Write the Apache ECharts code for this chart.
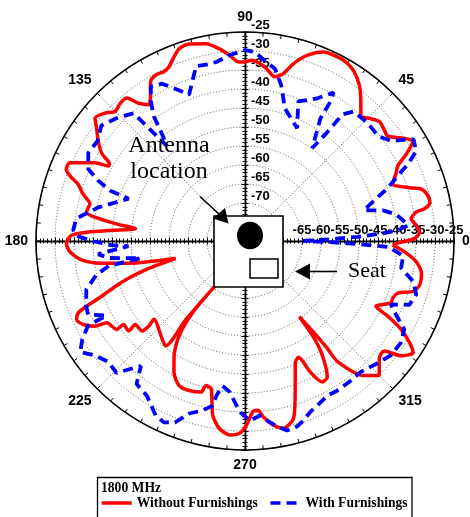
<!DOCTYPE html>
<html>
<head>
<meta charset="utf-8">
<script src="https://cdn.jsdelivr.net/npm/echarts@6/dist/echarts.min.js"></script>
<style>
  html, body { margin: 0; padding: 0; background: #fff; }
  #chart { width: 470px; height: 517px; }
</style>
</head>
<body>
<div id="chart"></div>
<script>
// Received level (dBm) against azimuth (degrees) at 1800 MHz, traced point by point
const redAngle = [358.4, 359.1, 0.8, 2.9, 5.2, 7.6, 9.6, 10.2, 11.8, 13.9, 16.4, 18.2, 21.1, 24.4, 26.2, 28.3, 30.7, 33.4, 36.3, 38.7,
  41.7, 45.1, 47.1, 51.0, 53.8, 57.2, 60.3, 63.8, 67.5, 71.5, 74.7, 77.1, 79.7, 82.9, 85.2, 88.0, 90.1, 92.3, 94.7, 97.6,
  101.2, 105.8, 108.9, 111.9, 113.6, 115.6, 118.3, 120.7, 122.3, 125.2, 127.7, 129.6, 132.2, 135.1, 137.6, 140.7, 142.7, 145.8, 148.6, 150.4,
  151.2, 152.4, 154.4, 155.9, 158.1, 159.9, 161.2, 163.8, 166.5, 169.7, 171.0, 172.4, 173.6, 175.4, 176.7, 178.1, 180.8, 183.5, 186.6, 188.8,
  190.8, 194.0, 195.1, 196.2, 197.7, 199.3, 201.1, 202.4, 203.3, 205.0, 207.3, 209.6, 210.6, 214.6, 214.5, 217.7, 217.3, 221.2, 221.5, 220.7,
  229.9, 232.9, 233.0, 236.4, 233.8, 235.2, 238.3, 241.6, 245.5, 249.5, 253.8, 254.9, 257.1, 259.5, 262.2, 265.5, 268.4, 270.4, 272.7, 274.4,
  275.9, 278.7, 281.6, 285.3, 288.0, 292.5, 294.7, 296.5, 298.7, 301.1, 304.0, 305.5, 305.7, 307.0, 307.5, 307.5, 311.5, 314.9, 319.1, 321.7,
  323.7, 326.4, 328.3, 330.5, 332.2, 333.5, 337.0, 338.9, 341.2, 343.3, 345.9, 349.7, 353.1, 356.1, 358.4];
const redLevel = [-41.1, -40.2, -35.4, -34.0, -34.7, -35.9, -34.3, -32.0, -30.3, -30.4, -31.6, -34.9, -38.3, -36.3, -35.2, -31.8, -28.6, -30.7, -33.4, -33.1,
  -32.7, -34.3, -35.2, -31.6, -29.1, -27.0, -26.0, -25.8, -26.2, -28.5, -31.6, -34.8, -36.1, -34.3, -33.1, -32.4, -32.9, -32.8, -31.0, -29.0,
  -27.1, -26.1, -26.5, -28.7, -30.0, -30.6, -30.4, -31.3, -33.5, -36.1, -34.2, -31.2, -31.1, -31.7, -30.1, -29.0, -30.9, -33.3, -35.9, -39.0,
  -39.0, -35.5, -32.3, -29.5, -29.3, -31.3, -33.6, -35.6, -38.0, -37.6, -40.0, -45.5, -51.0, -44.8, -38.7, -34.3, -33.0, -33.8, -36.7, -41.8,
  -48.8, -61.2, -57.4, -52.7, -47.8, -43.8, -39.6, -34.9, -32.2, -31.1, -32.1, -34.6, -37.7, -39.0, -41.2, -41.3, -43.7, -44.0, -46.2, -48.4,
  -46.2, -45.4, -54.1, -66.0, -56.6, -49.6, -44.5, -40.7, -38.2, -38.0, -38.6, -40.6, -40.1, -33.4, -30.2, -28.8, -29.4, -31.5, -35.1, -35.3,
  -33.5, -31.0, -29.7, -31.6, -37.3, -45.4, -46.3, -41.4, -37.7, -38.1, -43.5, -49.0, -55.5, -49.5, -44.5, -40.0, -32.7, -30.0, -33.2, -33.3,
  -29.0, -26.9, -29.1, -32.8, -37.5, -41.5, -38.3, -38.3, -37.5, -33.8, -32.6, -32.8, -34.6, -37.9, -41.1];

const blueAngle = [0.0, 1.2, 2.1, 3.1, 4.0, 5.5, 10.0, 12.5, 14.4, 17.4, 20.4, 22.7, 25.3, 27.7, 31.2, 34.4, 38.2, 43.8, 50.0, 52.4,
  53.0, 54.1, 58.4, 58.5, 59.2, 63.1, 69.1, 65.2, 73.2, 77.0, 80.1, 83.3, 87.0, 90.0, 91.6, 94.7, 99.1, 102.4, 105.6, 108.3,
  110.9, 114.2, 117.8, 121.4, 124.0, 126.2, 127.3, 129.4, 130.7, 131.1, 135.7, 141.2, 145.9, 150.7, 155.3, 157.7, 159.5, 160.0, 167.1, 172.4,
  176.4, 178.4, 180.1, 181.8, 182.5, 185.1, 187.1, 189.3, 190.4, 192.8, 197.1, 202.4, 205.1, 208.3, 208.3, 211.1, 214.0, 217.1, 221.5, 225.7,
  230.2, 232.8, 237.6, 242.9, 245.9, 248.9, 252.1, 255.9, 258.8, 259.5, 261.2, 264.2, 266.7, 268.6, 271.5, 274.9, 277.0, 279.8, 282.5, 285.7,
  288.0, 291.0, 293.7, 298.1, 302.2, 307.1, 311.5, 316.8, 322.0, 327.0, 331.0, 335.2, 336.5, 338.8, 342.6, 346.4, 350.2, 354.6, 357.6, 358.4,
  359.2, 360.0];
const blueLevel = [-64.7, -57.5, -50.3, -44.2, -39.6, -36.8, -39.6, -42.8, -47.7, -44.4, -39.8, -36.9, -32.5, -29.1, -28.2, -33.4, -35.4, -35.2, -35.5, -37.9,
  -44.8, -49.8, -42.1, -37.0, -34.5, -37.9, -40.7, -47.3, -43.6, -37.8, -34.0, -32.5, -30.2, -29.8, -30.2, -30.9, -32.3, -32.5, -32.2, -35.8,
  -38.8, -36.3, -33.2, -32.4, -35.7, -39.4, -43.0, -47.7, -39.1, -35.4, -33.4, -31.5, -33.1, -32.7, -34.6, -38.3, -42.2, -47.4, -40.4, -35.2,
  -34.7, -36.1, -40.1, -44.8, -49.3, -41.2, -43.8, -52.2, -43.5, -39.9, -36.3, -34.8, -34.4, -38.6, -33.1, -30.0, -27.7, -30.2, -32.0, -31.5,
  -37.2, -32.8, -31.8, -28.4, -27.7, -28.8, -32.3, -34.0, -35.8, -38.6, -41.4, -40.1, -37.1, -34.8, -32.7, -33.9, -32.4, -30.5, -28.9, -29.3,
  -30.3, -31.9, -32.7, -33.9, -33.7, -33.9, -34.0, -32.7, -31.2, -31.0, -32.1, -37.1, -38.1, -33.6, -32.8, -34.4, -38.3, -38.2, -42.1, -49.5,
  -57.5, -64.7];

// Axis labelling
const angleLabels = [0, 45, 90, 135, 180, 225, 270, 315];
const levelLabelsVertical = [-70, -65, -60, -55, -50, -45, -40, -35, -30, -25];
const levelLabelsHorizontal = [-65, -60, -55, -50, -45, -40, -35, -30, -25];
const levelRange = [-80, -25];

const seriesNames = ['Without Furnishings', 'With Furnishings'];
const legendTitle = '1800 MHz';

const CENTER = [245, 241];
const RADIUS = 209;
const SANS = '"Liberation Sans", Arial, sans-serif';
const SERIF = '"Liberation Serif", "Times New Roman", serif';

const toPairs = (angles, levels) => angles.map((a, i) => [levels[i], a]);

// One polar frame per axis direction and side; all share centre and radius
const dirs = [0, 0, 90, 90, 180, 180, 270, 270];
const polars = dirs.map(() => ({ center: CENTER, radius: RADIUS }));

const angleAxes = dirs.map((d, i) => {
  if (i === 0) {
    return {
      polarIndex: 0,
      type: 'value',
      min: 0, max: 360, interval: 45,
      startAngle: 0,
      clockwise: false,
      axisLine: { show: true, lineStyle: { color: '#000', width: 1.6 } },
      axisTick: { show: true, inside: true, length: 4, lineStyle: { color: '#000', width: 1 } },
      minorTick: { show: true, splitNumber: 9, length: 4, lineStyle: { color: '#000', width: 1 } },
      splitLine: { show: true, lineStyle: { color: '#333', width: 0.8, type: [1, 2] } },
      axisLabel: {
        show: true, margin: 8, color: '#000', fontFamily: SANS, fontWeight: 'bold', fontSize: 14,
        formatter: v => (angleLabels.indexOf(v) >= 0 ? String(v) : '')
      }
    };
  }
  return { polarIndex: i, type: 'value', min: 0, max: 360, startAngle: d, clockwise: false, show: false };
});

const radiusAxes = dirs.map((d, i) => {
  const flip = i % 2 === 1 ? -1 : 1;
  const ax = {
    polarIndex: i,
    type: 'value',
    min: levelRange[0], max: levelRange[1], interval: 5,
    axisLine: { show: true, lineStyle: { color: '#000', width: 1.4 } },
    axisTick: { show: true, length: 3.5 * flip, lineStyle: { color: '#000', width: 1 } },
    minorTick: { show: true, splitNumber: 5, length: 2.5 * flip, lineStyle: { color: '#000', width: 1 } },
    splitLine: { show: i === 0, lineStyle: { color: '#333', width: 0.8, type: [1, 2] } },
    axisLabel: { show: false }
  };
  if (i === 0) {
    ax.axisLabel = {
      show: true, margin: 4, color: '#000', fontFamily: SANS, fontWeight: 'bold', fontSize: 13,
      formatter: v => (levelLabelsHorizontal.indexOf(v) >= 0 ? String(v) : '')
    };
  }
  if (i === 2) {
    ax.axisLabel = {
      show: true, margin: -6, align: 'left', verticalAlign: 'bottom', color: '#000',
      fontFamily: SANS, fontWeight: 'bold', fontSize: 13,
      formatter: v => (levelLabelsVertical.indexOf(v) >= 0 ? String(v) : '')
    };
  }
  return ax;
});

const chart = echarts.init(document.getElementById('chart'), null, { renderer: 'canvas' });

chart.setOption({
  animation: false,
  backgroundColor: '#fff',
  polar: polars,
  angleAxis: angleAxes,
  radiusAxis: radiusAxes,
  legend: {
    left: 100, top: 496, padding: 0,
    itemWidth: 30, itemHeight: 14, itemGap: 11,
    selectedMode: false,
    itemStyle: { opacity: 0 },
    lineStyle: { width: 3.5 },
    textStyle: { fontFamily: SERIF, fontWeight: 'bold', fontSize: 13.6, color: '#000' },
    data: seriesNames
  },
  series: [
    {
      name: seriesNames[0],
      type: 'line',
      coordinateSystem: 'polar',
      polarIndex: 0,
      symbol: 'none',
      smooth: 0.25,
      z: 3,
      lineStyle: { color: '#ff0000', width: 3.5 },
      itemStyle: { color: '#ff0000' },
      data: toPairs(redAngle, redLevel)
    },
    {
      name: seriesNames[1],
      type: 'line',
      coordinateSystem: 'polar',
      polarIndex: 0,
      symbol: 'none',
      z: 4,
      lineStyle: { color: '#0000ff', width: 3.8, type: [10, 6] },
      itemStyle: { color: '#0000ff' },
      data: toPairs(blueAngle, blueLevel)
    }
  ],
  graphic: [
    // receiver box with antenna and seat
    { type: 'rect', z: 100, shape: { x: 214, y: 216, width: 69, height: 71 },
      style: { fill: '#fff', stroke: '#000', lineWidth: 1.6 } },
    { type: 'circle', z: 101, x: 250, y: 235.5, scaleY: 1.06, shape: { cx: 0, cy: 0, r: 13 },
      style: { fill: '#000' } },
    { type: 'rect', z: 101, shape: { x: 250, y: 259, width: 28, height: 19 },
      style: { fill: '#fff', stroke: '#000', lineWidth: 1.5 } },
    // "Antenna location" callout
    { type: 'text', z: 102, style: { text: 'Antenna', x: 169, y: 146, align: 'center', verticalAlign: 'middle',
      font: '24px ' + SERIF, fill: '#000' } },
    { type: 'text', z: 102, style: { text: 'location', x: 169, y: 172, align: 'center', verticalAlign: 'middle',
      font: '24px ' + SERIF, fill: '#000' } },
    { type: 'line', z: 102, shape: { x1: 200, y1: 196.5, x2: 220, y2: 215 },
      style: { stroke: '#000', lineWidth: 1.6 } },
    { type: 'polygon', z: 102, shape: { points: [[228.5, 223.5], [213, 218.5], [225, 208]] },
      style: { fill: '#000' } },
    // "Seat" callout
    { type: 'text', z: 102, style: { text: 'Seat', x: 348, y: 271, align: 'left', verticalAlign: 'middle',
      font: '22px ' + SERIF, fill: '#000' } },
    { type: 'line', z: 102, shape: { x1: 306, y1: 271.5, x2: 337, y2: 271.5 },
      style: { stroke: '#000', lineWidth: 1.6 } },
    { type: 'polygon', z: 102, shape: { points: [[295, 271.5], [310, 263.5], [310, 279.5]] },
      style: { fill: '#000' } },
    // legend frame and title
    { type: 'rect', z: 1, shape: { x: 97.5, y: 477.5, width: 314.5, height: 60 },
      style: { fill: 'none', stroke: '#000', lineWidth: 1.3 } },
    { type: 'text', z: 2, style: { text: legendTitle, x: 101, y: 488, align: 'left', verticalAlign: 'middle',
      font: 'bold 13.6px ' + SERIF, fill: '#000' } }
  ]
});
</script>
</body>
</html>
